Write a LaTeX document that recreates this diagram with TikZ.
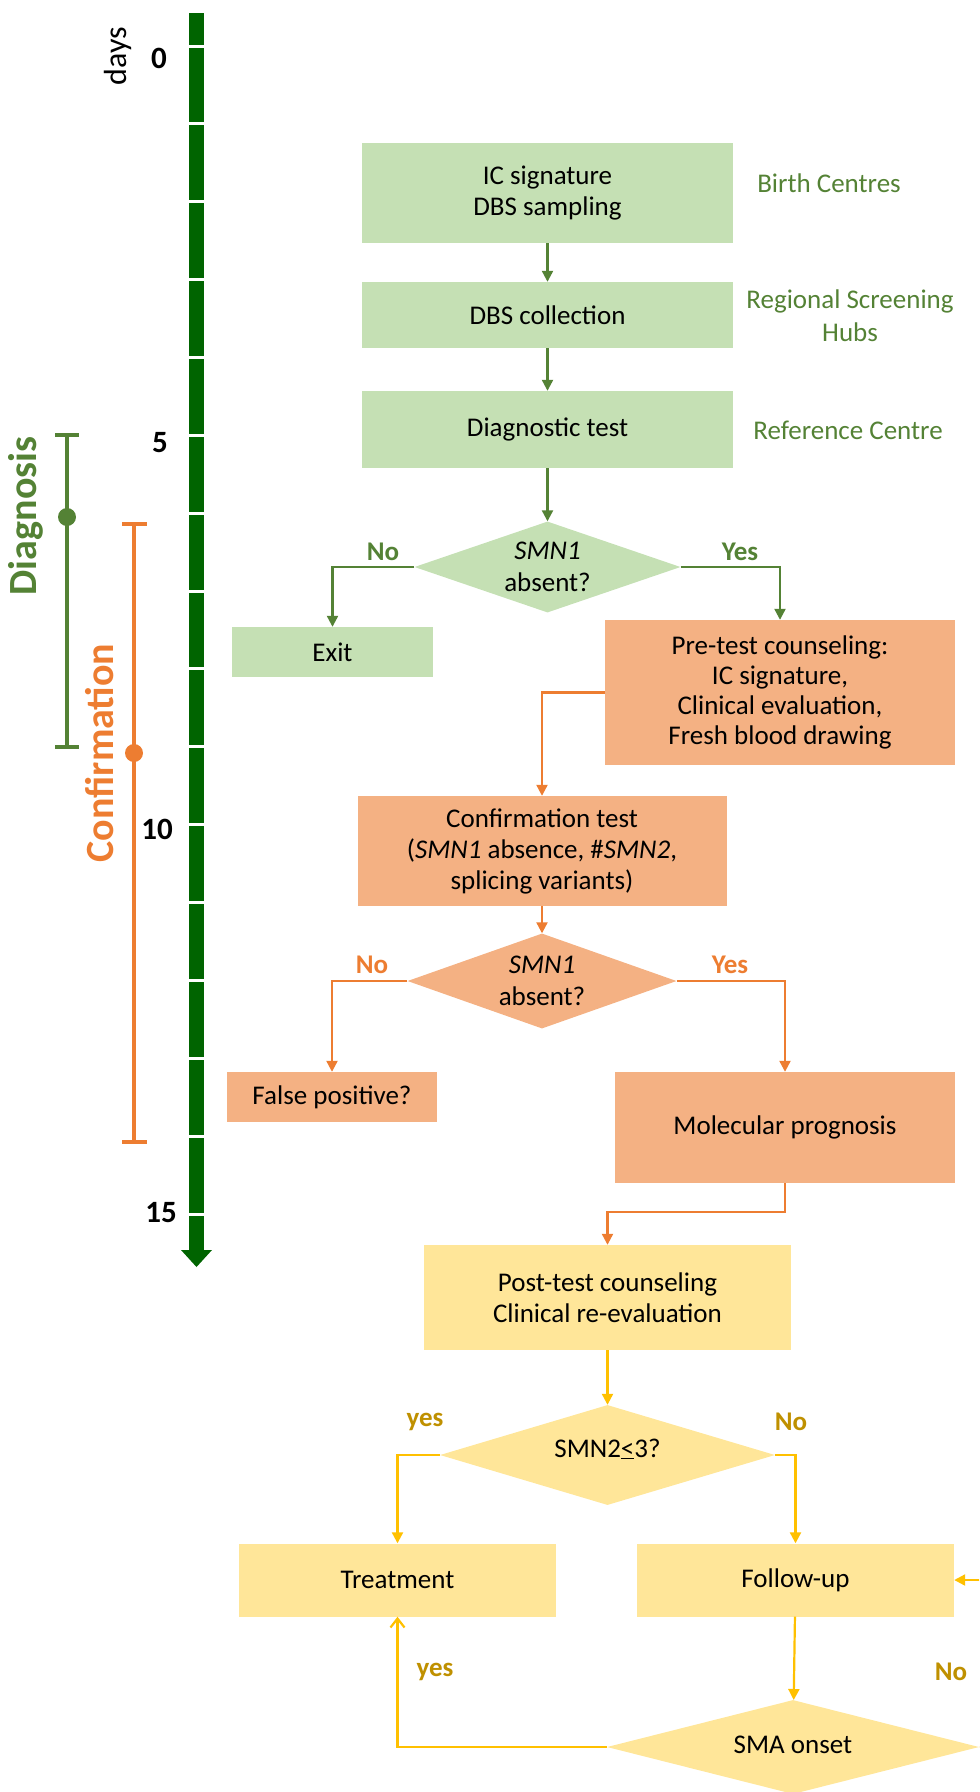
\documentclass[tikz,border=0pt]{standalone}
\usepackage{fontspec}
\setmainfont{Carlito}
\usetikzlibrary{shapes.geometric,arrows.meta}
\definecolor{gbox}{HTML}{C5E0B4}
\definecolor{gline}{HTML}{548235}
\definecolor{obox}{HTML}{F4B183}
\definecolor{oline}{HTML}{ED7D31}
\definecolor{ybox}{HTML}{FFE699}
\definecolor{yline}{HTML}{FFC000}
\definecolor{ylab}{HTML}{BF9000}
\definecolor{tl}{RGB}{0,100,0}
\tikzset{
  box/.style={rectangle, inner sep=0pt, align=center, font=\fontsize{27bp}{31bp}\selectfont, text=black},
  dia/.style={diamond, inner sep=0pt},
  txt/.style={inner sep=0pt, align=center, font=\fontsize{27bp}{32bp}\selectfont},
  lab/.style={inner sep=0pt, font=\bfseries\fontsize{27bp}{32bp}\selectfont},
  side/.style={inner sep=0pt, align=center, text=gline, font=\fontsize{27bp}{33bp}\selectfont},
  daylab/.style={inner sep=0pt, font=\bfseries\fontsize{31bp}{36bp}\selectfont},
  conn/.style={line width=2.2bp, -{Triangle[length=11bp,width=11bp]}},
  barb/.style={line width=2.2bp, -{Straight Barb[length=9bp,width=14bp,line width=2.2bp]}},
}
\begin{document}
\begin{tikzpicture}[x=1bp,y=-1bp]
\useasboundingbox (0,0) rectangle (979,1792);
\clip (0,0) rectangle (979,1792);

% timeline
\fill[tl] (189,13) rectangle (204,1252);
\foreach \d in {0,...,15} \draw[white, line width=3bp] (186,{46+77.87*\d}) -- (207,{46+77.87*\d});
\fill[tl] (181,1250) -- (212,1250) -- (196.5,1267) -- cycle;
\node[daylab] (t0) at (159,58) {0};
\node[daylab] (t5) at (160,443) {5};
\node[daylab] (t10) at (157,829) {10};
\node[daylab] (t15) at (161,1213) {15};
\node[rotate=90, inner sep=0pt, font=\fontsize{32bp}{38bp}\selectfont] (days) at (118,56) {days};

% diagnosis bar
\draw[gline, line width=4bp] (67,435) -- (67,747);
\draw[gline, line width=4bp] (55,435) -- (79,435);
\draw[gline, line width=4bp] (55,747) -- (79,747);
\fill[gline] (67,517) circle (9);
\node[rotate=90, inner sep=0pt, text=gline, font=\bfseries\fontsize{40bp}{48bp}\selectfont] (diag) at (26,516) {Diagnosis};

% confirmation bar
\draw[oline, line width=4bp] (134,524) -- (134,1142);
\draw[oline, line width=4bp] (122,524) -- (147,524);
\draw[oline, line width=4bp] (122,1142) -- (147,1142);
\fill[oline] (134,753) circle (9);
\node[rotate=90, inner sep=0pt, text=oline, font=\bfseries\fontsize{40bp}{48bp}\selectfont] (confl) at (100,753) {Confirmation};

% green stage
\node[box, fill=gbox, minimum width=371bp, minimum height=100bp] (b1) at (547.5,193) {IC signature\\DBS sampling};
\node[box, fill=gbox, minimum width=371bp, minimum height=66bp] (b2) at (547.5,315) {DBS collection};
\node[box, fill=gbox, minimum width=371bp, minimum height=77bp] (b3) at (547.5,429.5) {Diagnostic test};
\node[side] (s1) at (829,183) {Birth Centres};
\node[side] (s2) at (850,316) {Regional Screening\\Hubs};
\node[side] (s3) at (848,430) {Reference Centre};
\node[dia, fill=gbox, minimum width=266bp, minimum height=91bp] (d1) at (547.5,567) {};
\node[txt] (d1t) at (d1) {\textit{SMN1}\\absent?};
\node[box, fill=gbox, minimum width=201bp, minimum height=50bp] (exit) at (332.5,652) {Exit};
\node[lab, text=gline] (l1n) at (383,552) {No};
\node[lab, text=gline] (l1y) at (740,552) {Yes};
\draw[conn, gline] (b1) -- (b2);
\draw[conn, gline] (b2) -- (b3);
\draw[conn, gline] (b3) -- (d1);
\draw[conn, gline] (d1.west) -| (exit.north);

% orange stage
\node[box, fill=obox, minimum width=350bp, minimum height=145bp, font=\fontsize{27bp}{30bp}\selectfont] (pre) at (780,692.5) {Pre-test counseling:\\IC signature,\\Clinical evaluation,\\Fresh blood drawing};
\draw[conn, gline] (d1.east) -| (pre.north);
\node[box, fill=obox, minimum width=369bp, minimum height=110bp] (conf) at (542,851) {Confirmation test\\(\textit{SMN1} absence, \#\textit{SMN2},\\splicing variants)};
\draw[conn, oline] (pre.west) -| (conf.north);
\node[dia, fill=obox, minimum width=269bp, minimum height=95bp] (d2) at (542,981) {};
\node[txt] (d2t) at (d2) {\textit{SMN1}\\absent?};
\draw[conn, oline] (conf) -- (d2);
\node[lab, text=oline] (l2n) at (372,965) {No};
\node[lab, text=oline] (l2y) at (730,965) {Yes};
\node[box, fill=obox, minimum width=210bp, minimum height=50bp] (fp) at (332,1097) {False positive?};
\node[box, fill=obox, minimum width=340bp, minimum height=111bp] (mol) at (785,1127.5) {Molecular prognosis};
\draw[conn, oline] (d2.west) -| (fp.north);
\draw[conn, oline] (d2.east) -| (mol.north);

% yellow stage
\node[box, fill=ybox, minimum width=367bp, minimum height=105bp] (post) at (607.5,1297.5) {Post-test counseling\\Clinical re-evaluation};
\draw[conn, oline] (mol.south) -- ++(0,29) -| (post.north);
\node[dia, fill=ybox, minimum width=335bp, minimum height=100bp] (d3) at (607.5,1455) {};
\node[txt] (d3t) at (607.5,1449) {SMN2\underline{<}3?};
\draw[conn, yline] (post) -- (d3);
\node[lab, text=ylab] (l3y) at (425,1422) {yes};
\node[lab, text=ylab] (l3n) at (791,1422) {No};
\node[box, fill=ybox, minimum width=317bp, minimum height=73bp] (treat) at (397.5,1580) {Treatment};
\node[box, fill=ybox, minimum width=317bp, minimum height=73bp] (fu) at (795.5,1580) {Follow-up};
\draw[conn, yline] (d3.west) -| (treat.north);
\draw[conn, yline] (d3.east) -| (fu.north);
\node[dia, fill=ybox, minimum width=372bp, minimum height=94bp] (d4) at (793,1747) {};
\node[txt] (d4t) at (793,1745) {SMA onset};
\draw[conn, yline] (fu) -- (d4);
\draw[barb, yline] (d4.west) -| (treat.south);
\draw[conn, yline] (d4.east) -- ++(15,0) |- (fu.east);
\node[lab, text=ylab] (l4y) at (435,1672) {yes};
\node[lab, text=ylab] (l4n) at (951,1672) {No};
\end{tikzpicture}
\end{document}
